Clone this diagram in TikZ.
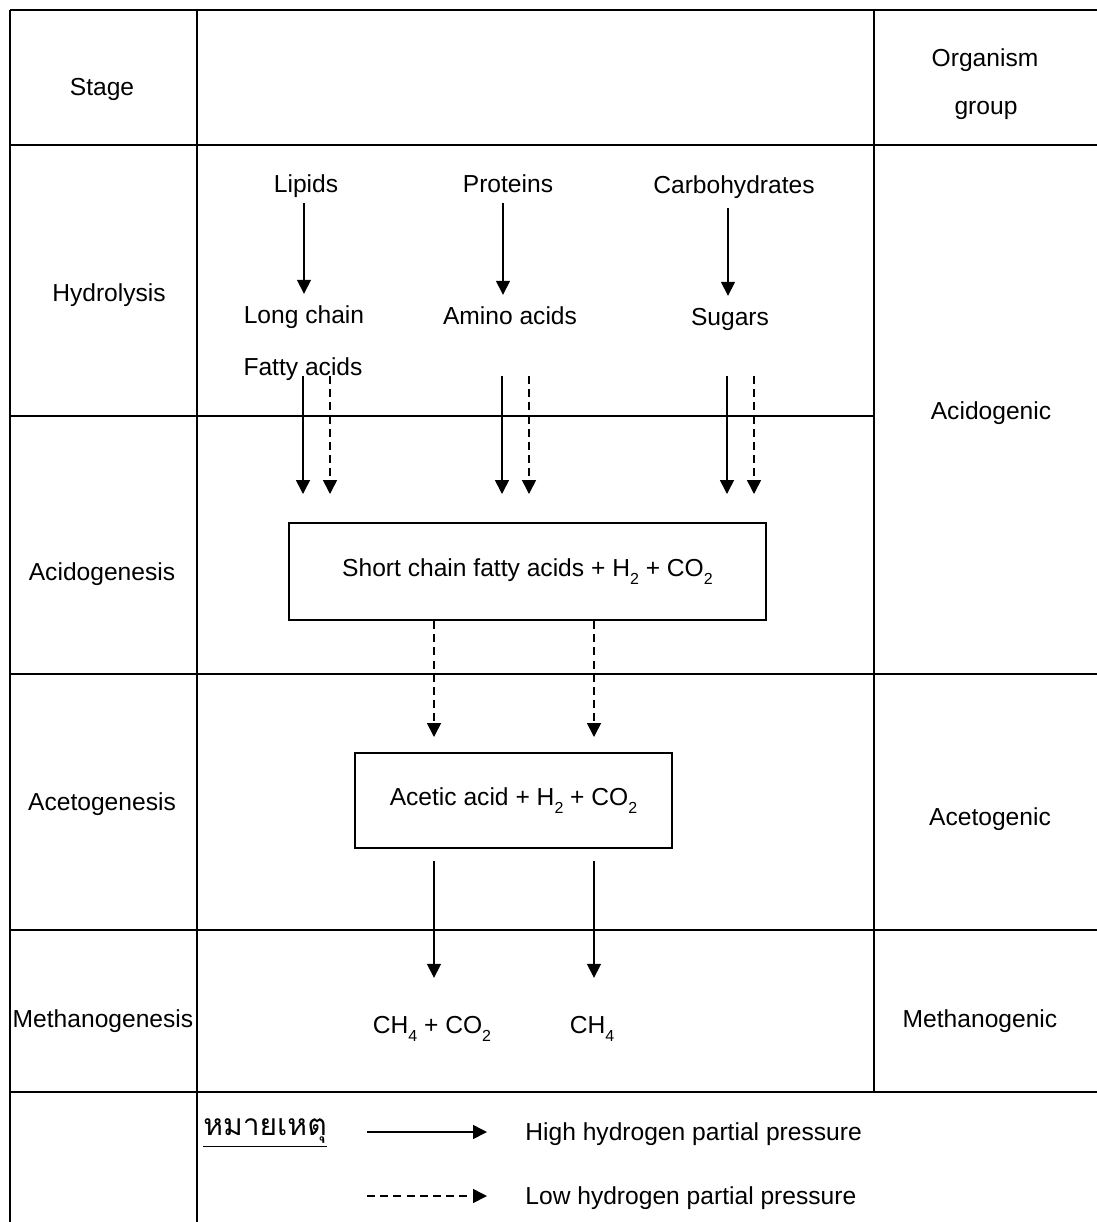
\documentclass[tikz,border=0pt]{standalone}
\usepackage{fontspec}
\setmainfont{Liberation Sans}
\newfontfamily\thaifont[Script=Thai]{Loma}
\usetikzlibrary{arrows.meta,positioning}
\newcommand{\chemsub}[1]{\raisebox{-0.6ex}{\fontsize{8}{8}\selectfont #1}}

\begin{document}
\begin{tikzpicture}[x=0.5pt,y=-0.5pt,
  font=\fontsize{12.3}{15}\selectfont,
  grid/.style={line width=1pt},
  txt/.style={inner sep=0pt,align=center,text height=8.8pt,text depth=0pt},
  procbox/.style={draw,line width=1pt,inner sep=0pt},
  hi/.style={line width=0.8pt,-{Triangle[width=7pt,length=7pt]}},
  lo/.style={hi,dash pattern=on 4pt off 2.6pt}]
\useasboundingbox (0,0) rectangle (1097,1222);

% table grid
\draw[grid] (10,10) -- (1097,10);
\draw[grid] (10,145) -- (1097,145);
\draw[grid] (10,416) -- (874,416);
\draw[grid] (10,674) -- (1097,674);
\draw[grid] (10,930) -- (1097,930);
\draw[grid] (10,1092) -- (1097,1092);
\draw[grid] (10,10) -- (10,1222);
\draw[grid] (197,10) -- (197,1222);
\draw[grid] (874,10) -- (874,1092);

% stage column
\node[txt] (stage) at (102,87) {Stage};
\node[txt] (hydro) at (109,293) {Hydrolysis};
\node[txt] (acido) at (102,572) {Acidogenesis};
\node[txt] (aceto) at (102,802) {Acetogenesis};
\node[txt] (metha) at (103,1019) {Methanogenesis};

% organism column
\node[txt] (organism) at (985,58) {Organism};
\node[txt] (group) at (986,106) {group};
\node[txt] (acidogenic) at (991,411) {Acidogenic};
\node[txt] (acetogenic) at (990,817) {Acetogenic};
\node[txt] (methanogenic) at (980,1019) {Methanogenic};

% substrates
\node[txt] (lipids) at (306,184) {Lipids};
\node[txt] (proteins) at (508,184) {Proteins};
\node[txt] (carbs) at (734,185) {Carbohydrates};
\node[txt] (longchain) at (304,315) {Long chain};
\node[txt] (fatty) at (303,367) {Fatty acids};
\node[txt] (amino) at (510,316) {Amino acids};
\node[txt] (sugars) at (730,317) {Sugars};

\draw[hi,shorten <=5pt,shorten >=6pt] (304,0 |- lipids.south) -- (304,0 |- longchain.north);
\draw[hi,shorten <=5pt,shorten >=6pt] (503,0 |- proteins.south) -- (503,0 |- amino.north);
\draw[hi,shorten <=7pt,shorten >=6pt] (728,0 |- carbs.south) -- (728,0 |- sugars.north);

% products
\node[procbox,minimum width=238.5pt,minimum height=48.5pt] (scfa) at (527.5,571.5)
  {Short chain fatty acids + H\chemsub{2} + CO\chemsub{2}};
\node[procbox,minimum width=158.5pt,minimum height=47.5pt] (acetic) at (513.5,800.5)
  {Acetic acid + H\chemsub{2} + CO\chemsub{2}};
\node[txt] (ch4co2) at (432,1025) {CH\chemsub{4} + CO\chemsub{2}};
\node[txt] (ch4) at (592,1025) {CH\chemsub{4}};

\coordinate (pairtop) at (0,376);
\foreach \x/\s in {303/hi,330/lo,502/hi,529/lo,727/hi,754/lo}
  \draw[\s,shorten >=14pt] (\x,0 |- pairtop) -- (\x,0 |- scfa.north);

\draw[lo,shorten >=7.5pt] (434,0 |- scfa.south) -- (434,0 |- acetic.north);
\draw[lo,shorten >=7.5pt] (594,0 |- scfa.south) -- (594,0 |- acetic.north);
\draw[hi,shorten <=6pt,shorten >=19pt] (434,0 |- acetic.south) -- (434,0 |- ch4co2.north);
\draw[hi,shorten <=6pt,shorten >=19pt] (594,0 |- acetic.south) -- (594,0 |- ch4.north);

% legend
\node[inner sep=0pt] (note) at (265,1133) {\thaifont\fontsize{15}{16}\selectfont\underline{หมายเหตุ}};
\node[txt,anchor=west] (hightxt) at (525,1132) {High hydrogen partial pressure};
\node[txt,anchor=west] (lowtxt) at (525,1196) {Low hydrogen partial pressure};
\coordinate (hikey) at (367,1132);
\coordinate (lokey) at (367,1196);
\draw[hi,shorten >=19pt] (hikey) -- (hightxt.west);
\draw[lo,shorten >=19pt] (lokey) -- (lowtxt.west);
\end{tikzpicture}
\end{document}
